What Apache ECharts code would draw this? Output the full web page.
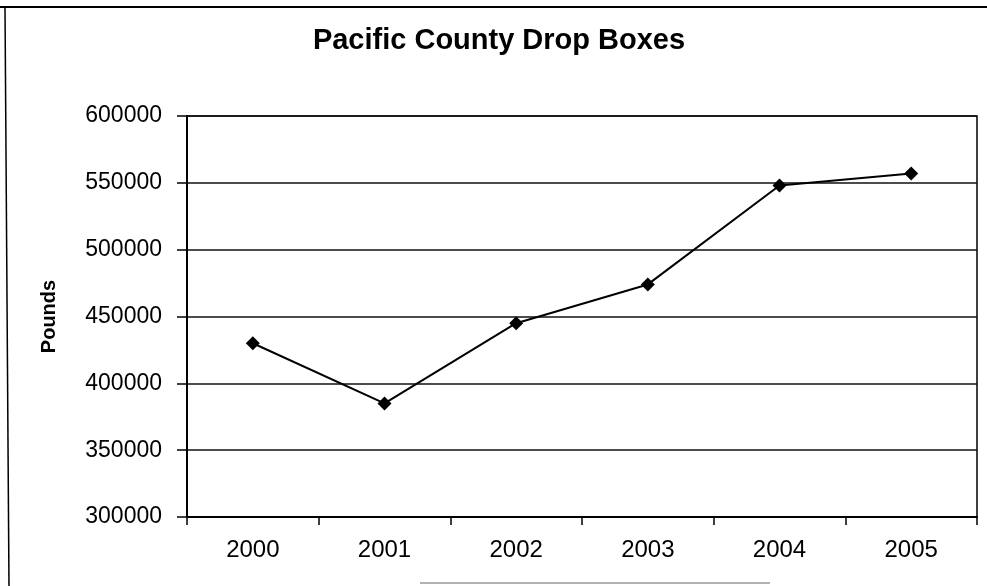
<!DOCTYPE html>
<html>
<head>
<meta charset="utf-8">
<script src="https://cdn.jsdelivr.net/npm/echarts@6/dist/echarts.min.js"></script>
<style>
html,body{margin:0;padding:0;background:#fff;}
#chart{width:987px;height:586px;}
</style>
</head>
<body>
<div id="chart"></div>
<script>
var titleText = 'Pacific County Drop Boxes';
var yAxisName = 'Pounds';
var categories = ['2000', '2001', '2002', '2003', '2004', '2005'];
var pounds = [430000, 385000, 445000, 474000, 548000, 557000];
var yMin = 300000, yMax = 600000, yStep = 50000;

var chart = echarts.init(document.getElementById('chart'), null, {renderer: 'canvas'});
var font = '"Liberation Sans", Arial, sans-serif';
chart.setOption({
  animation: false,
  backgroundColor: '#fff',
  title: {
    text: titleText,
    left: 499,
    top: 26,
    padding: 0,
    textAlign: 'center',
    textStyle: {fontFamily: font, fontWeight: 'bold', fontSize: 29, color: '#000'}
  },
  grid: {
    left: 187, right: 10, top: 116, bottom: 69,
    show: true, borderColor: '#000', borderWidth: 1.5, backgroundColor: 'transparent'
  },
  xAxis: {
    type: 'category',
    data: categories,
    boundaryGap: true,
    axisLine: {lineStyle: {color: '#000', width: 2}},
    axisTick: {show: true, length: 8, inside: false, alignWithLabel: false, lineStyle: {color: '#000', width: 1.5}},
    axisLabel: {margin: 21, fontFamily: font, fontSize: 24, color: '#000'},
    splitLine: {show: false}
  },
  yAxis: {
    type: 'value',
    min: yMin, max: yMax, interval: yStep,
    name: yAxisName,
    nameLocation: 'middle',
    nameGap: 128,
    nameRotate: 90,
    nameTextStyle: {fontFamily: font, fontWeight: 'bold', fontSize: 20, color: '#000'},
    axisLine: {show: true, lineStyle: {color: '#000', width: 2}},
    axisTick: {show: true, length: 10, lineStyle: {color: '#000', width: 1.5}},
    axisLabel: {margin: 25, fontFamily: font, fontSize: 23, color: '#000',
      formatter: function (v) { return String(v); }},
    splitLine: {show: true, lineStyle: {color: '#111', width: 1.5}}
  },
  series: [{
    type: 'line',
    data: pounds,
    symbol: 'diamond',
    symbolSize: 14,
    lineStyle: {color: '#000', width: 2},
    itemStyle: {color: '#000'},
    z: 5
  }],
  graphic: [
    {type: 'line', shape: {x1: 0, y1: 7, x2: 987, y2: 7}, style: {stroke: '#000', lineWidth: 2}, silent: true},
    {type: 'line', shape: {x1: 5, y1: 7, x2: 9, y2: 586}, style: {stroke: '#000', lineWidth: 1.5}, silent: true},
    {type: 'line', shape: {x1: 420, y1: 583, x2: 770, y2: 583}, style: {stroke: '#9a9a9a', lineWidth: 1.5}, silent: true}
  ]
});
</script>
</body>
</html>
